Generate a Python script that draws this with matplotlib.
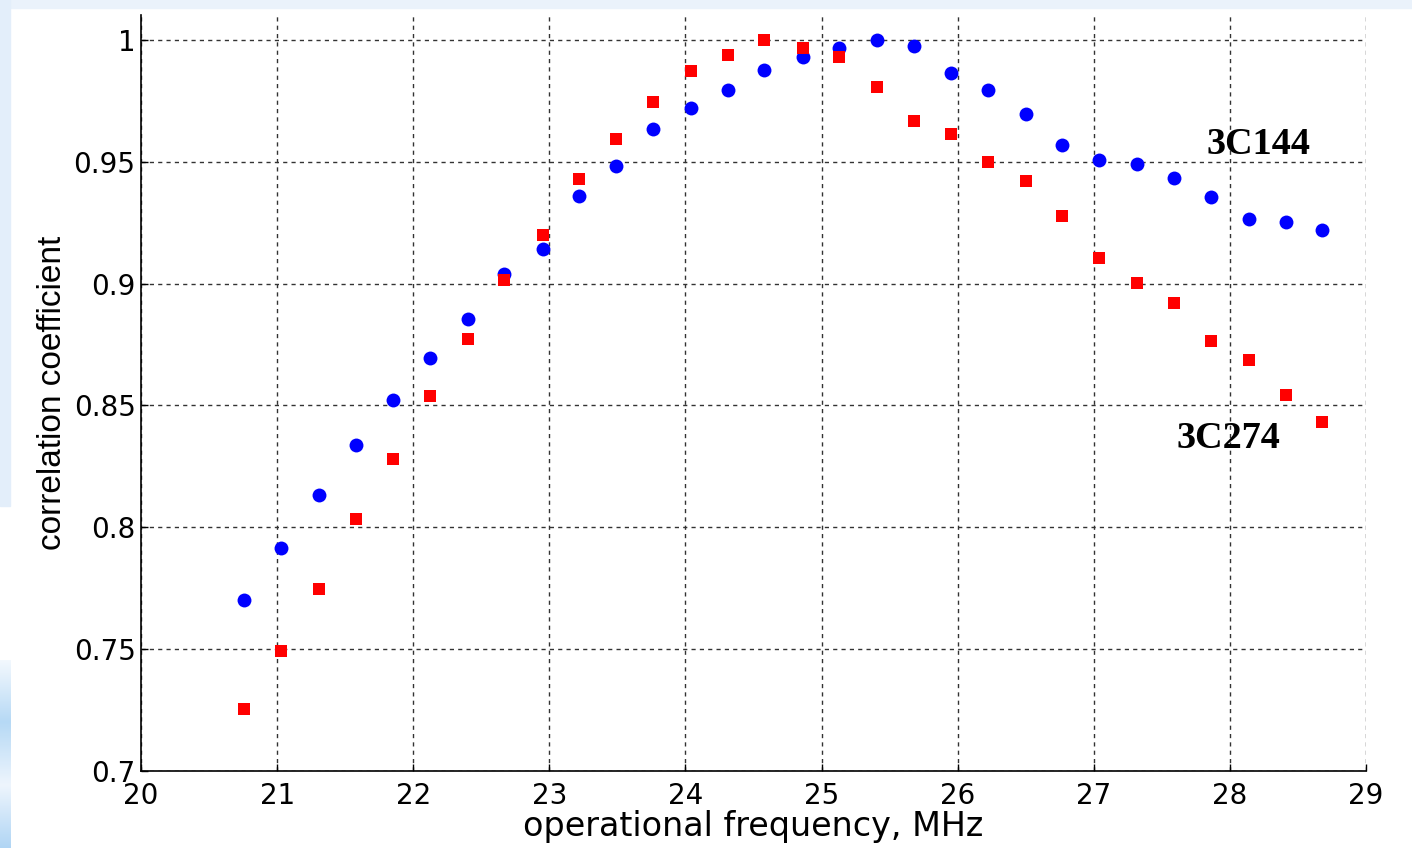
import matplotlib.pyplot as plt
import numpy as np
from matplotlib.patches import Rectangle
from matplotlib.colors import LinearSegmentedColormap

# frequency points, MHz
freq = [20.76, 21.03, 21.31, 21.58, 21.85, 22.12, 22.40, 22.67, 22.95, 23.22,
        23.49, 23.76, 24.04, 24.31, 24.58, 24.86, 25.13, 25.41, 25.68, 25.95,
        26.22, 26.50, 26.77, 27.04, 27.32, 27.59, 27.86, 28.14, 28.41, 28.68]

# correlation coefficient, 3C144
corr_3c144 = [0.770, 0.7915, 0.8133, 0.8338, 0.8523, 0.8695, 0.8855, 0.9040, 0.9142, 0.9360,
              0.9483, 0.9635, 0.9721, 0.9795, 0.9877, 0.9930, 0.9967, 1.000, 0.9975, 0.9865,
              0.9795, 0.9696, 0.9569, 0.9508, 0.9491, 0.9434, 0.9356, 0.9265, 0.9253, 0.9220]

# correlation coefficient, 3C274
corr_3c274 = [0.7255, 0.7493, 0.7747, 0.8034, 0.8281, 0.8539, 0.8773, 0.9015, 0.9200, 0.9430,
              0.9594, 0.9746, 0.9873, 0.9938, 1.000, 0.9967, 0.9930, 0.9807, 0.9668, 0.9614,
              0.9499, 0.9421, 0.9278, 0.9105, 0.9003, 0.8921, 0.8765, 0.8687, 0.8543, 0.8432]

xticks = np.arange(20, 30, 1)
yticks = [0.7, 0.75, 0.8, 0.85, 0.9, 0.95, 1.0]
ytick_labels = ["0.7", "0.75", "0.8", "0.85", "0.9", "0.95", "1"]

plt.rcParams['font.family'] = ['DejaVu Sans']

fig = plt.figure(figsize=(14.12, 8.48), dpi=100)

# pale slide background bits at the edges
fig.patches.append(Rectangle((0, 0.991), 1, 0.009, transform=fig.transFigure,
                             color='#eaf2fb', zorder=0))
fig.patches.append(Rectangle((0, 0.403), 0.0072, 0.60, transform=fig.transFigure,
                             color='#e3eefa', zorder=0))
pale = LinearSegmentedColormap.from_list('pale', ['#f4f9fe', '#b6d9f5', '#eef5fd', '#b0d5f4'])
grad = np.linspace(0, 1, 256).reshape(-1, 1)
gax = fig.add_axes([0, 0, 0.0072, 0.222])
gax.imshow(grad, aspect='auto', cmap=pale, origin='upper')
gax.axis('off')

ax = fig.add_axes([0.0999, 0.0908, 0.8675, 0.8915])
ax.plot(freq, corr_3c144, linestyle='none', marker='o', color='blue',
        markersize=10, markeredgewidth=0, zorder=3)
ax.plot(freq, corr_3c274, linestyle='none', marker='s', color='red',
        markersize=8.5, markeredgewidth=0, zorder=3)

ax.text(28.21, 0.9572, '3C144', family='Liberation Serif', fontweight='bold',
        fontsize=27.5, ha='center', va='center')
ax.text(27.99, 0.8366, '3C274', family='Liberation Serif', fontweight='bold',
        fontsize=27.5, ha='center', va='center')

ax.set_xlim(20, 29)
ax.set_ylim(0.7, 1.0102)
ax.set_xticks(xticks)
ax.set_xticklabels([str(t) for t in xticks])
ax.set_yticks(yticks)
ax.set_yticklabels(ytick_labels)
ax.tick_params(direction='in', length=5, width=1, labelsize=20)
ax.tick_params(axis='x', pad=8)
ax.tick_params(axis='y', pad=4)
ax.grid(True, color='#333333', linestyle=(0, (3, 3)), linewidth=1)
ax.set_axisbelow(True)
for side in ['top', 'right']:
    ax.spines[side].set_visible(False)
ax.spines['left'].set_linewidth(1.2)
ax.spines['bottom'].set_linewidth(1.2)

ax.set_xlabel('operational frequency, MHz', fontsize=24, labelpad=0)
ax.set_ylabel('correlation coefficient', family='Liberation Sans', fontsize=24, labelpad=4)

fig.savefig('out.png', dpi=100, facecolor='white')
